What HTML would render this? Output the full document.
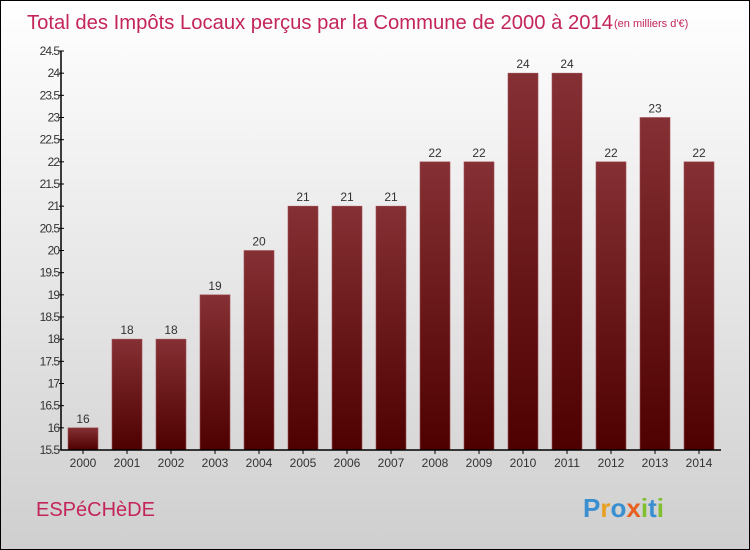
<!DOCTYPE html>
<html><head><meta charset="utf-8"><style>
html,body{margin:0;padding:0}
body{width:750px;height:550px;overflow:hidden}
#c{position:relative;width:748px;height:548px;border:1px solid #000;background:linear-gradient(#ffffff,#cfcfcf)}
svg{position:absolute;left:0;top:0}
text{font-family:"Liberation Sans",sans-serif}
</style></head><body>
<div id="c">
<svg id="s" width="748" height="548">
<defs><linearGradient id="g" x1="0" y1="0" x2="0" y2="1"><stop offset="0" stop-color="#853034"/><stop offset="1" stop-color="#4e0000"/></linearGradient></defs>
<text x="26" y="28" font-size="20" fill="#c3255a" textLength="586" lengthAdjust="spacingAndGlyphs">Total des Impôts Locaux perçus par la Commune de 2000 à 2014</text>
<text x="613" y="26" font-size="11" fill="#c3255a">(en milliers d'€)</text>
<text x="35" y="515" font-size="20" fill="#c3255a">ESPéCHèDE</text>
<text x="582" y="516" font-size="26" font-weight="bold"><tspan fill="#3a8fd0">P</tspan><tspan fill="#e8a020">r</tspan><tspan fill="#3a8fd0">o</tspan><tspan fill="#e86020">x</tspan><tspan fill="#80c030">i</tspan><tspan fill="#3a8fd0">t</tspan><tspan fill="#80c030">i</tspan></text>
</svg></div>
<script>
const years=["2000","2001","2002","2003","2004","2005","2006","2007","2008","2009","2010","2011","2012","2013","2014"];
const values=[16,18,18,19,20,21,21,21,22,22,24,24,22,23,22];
const labels=["16","18","18","19","20","21","21","21","22","22","24","24","22","23","22"];
const ticks=[15.5,16,16.5,17,17.5,18,18.5,19,19.5,20,20.5,21,21.5,22,22.5,23,23.5,24,24.5];
const NS="http://www.w3.org/2000/svg",s=document.getElementById('s');
const x0=60,slot=44,yMin=15.5,yMax=24.5,yTop=50,yBot=449;
const y=v=>yBot-(v-yMin)/(yMax-yMin)*(yBot-yTop);
function mk(t,a,p){const e=document.createElementNS(NS,t);for(const k in a)e.setAttribute(k,a[k]);(p||s).appendChild(e);return e;}
values.forEach((v,i)=>{
 const cx=x0+slot*i+slot/2;
 const r=mk('rect',{x:cx-15,y:y(v),width:30,height:yBot-y(v),fill:'url(#g)',stroke:'#a05058','stroke-width':0.6});
 
 
 const t=mk('text',{x:cx,y:y(v)-5,'font-size':12,fill:'#333','text-anchor':'middle'});t.textContent=labels[i];
 
 
 const xl=mk('text',{x:cx,y:466,'font-size':12,fill:'#333','text-anchor':'middle'});xl.textContent=years[i];
 
 
 mk('line',{x1:cx,x2:cx,y1:yBot,y2:yBot+4,stroke:'#000'});
});
ticks.forEach(v=>{
 mk('line',{x1:x0-2,x2:x0+3,y1:y(v),y2:y(v),stroke:'#000'});
 const t=mk('text',{x:x0-2,y:y(v)+4,'font-size':12,fill:'#333','text-anchor':'end','letter-spacing':'-1'});t.textContent=String(v);
 
 
});
const ya=mk('line',{x1:x0,x2:x0,y1:yTop,y2:yBot,stroke:'#000','stroke-width':1.5});


const xa=mk('line',{x1:x0,x2:x0+slot*years.length,y1:yBot,y2:yBot,stroke:'#000','stroke-width':1.5});


</script>
</body></html>
